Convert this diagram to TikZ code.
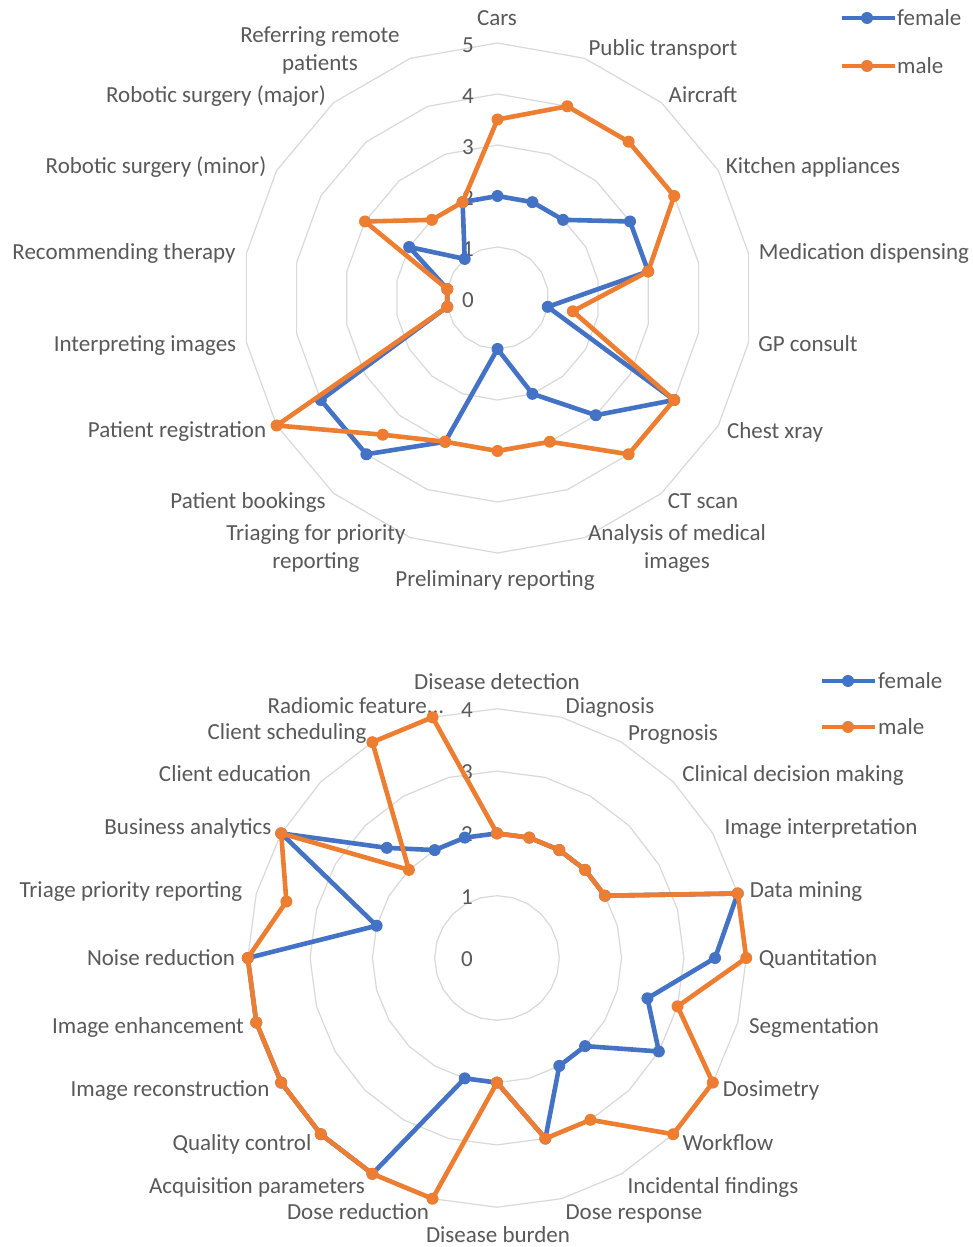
\documentclass[tikz,border=0pt]{standalone}
\usepackage{fontspec}
\setmainfont{Carlito}
\definecolor{serF}{HTML}{4472C4}
\definecolor{serM}{HTML}{ED7D31}
\definecolor{gridc}{HTML}{D9D9D9}
\definecolor{txtc}{HTML}{595959}
\tikzset{
  gridline/.style={draw=gridc, line width=1.2pt},
  lab/.style={font=\fontsize{23}{28}\selectfont, text=txtc, anchor=base, inner sep=0pt},
  labw/.style={lab, anchor=base west},
  multilab/.style={lab, align=center},
  fline/.style={draw=serF, line width=4.6pt, line join=round, line cap=round},
  mline/.style={draw=serM, line width=4.6pt, line join=round, line cap=round},
}
\begin{document}
\begin{tikzpicture}[x=1pt,y=1pt]
\useasboundingbox (0,0) rectangle (973,1247);
\fill[white] (0,0) rectangle (973,1247);
% ================= TOP CHART =================
\begin{scope}[shift={(497.5,949)}]
  \foreach \k in {1,...,5}{
    \draw[gridline] (90:{\k*51pt}) \foreach \i in {1,...,17}{ -- ({90-20*\i}:{\k*51pt}) } -- cycle;
  }
  \foreach \v in {0,...,5}{ \node[lab] (ts\v) at (-29.5, {\v*51-9.5}) {\v}; }
  \foreach \v [count=\i from 0] in {2,2,2,3,3,1,4,3,2,1,3,4,4,1,1,2,1,2}{
    \coordinate (tf\i) at ({90-20*\i}:{\v*51pt});
  }
  \foreach \v [count=\i from 0] in {3.5,4,4,4,3,1.5,4,4,3,3,3,3.5,5,1,1,3,2,2}{
    \coordinate (tm\i) at ({90-20*\i}:{\v*51pt});
  }
\end{scope}
% top labels
\node[lab] (t0) at (497,1221.5) {Cars};
\node[lab] (t1) at (663,1191.5) {Public transport};
\node[lab] (t2) at (703,1144.5) {Aircraft};
\node[lab] (t3) at (813,1073.5) {Kitchen appliances};
\node[lab] (t4) at (864,987.5) {Medication dispensing};
\node[lab] (t5) at (808,895.5) {GP consult};
\node[lab] (t6) at (775,808.5) {Chest xray};
\node[lab] (t7) at (703,738.5) {CT scan};
\node[multilab] (t8) at (677,678.5) {Analysis of medical\\images};
\node[lab] (t9) at (495,660.5) {Preliminary reporting};
\node[multilab] (t10) at (316,678.5) {Triaging for priority\\reporting};
\node[lab] (t11) at (248,738.5) {Patient bookings};
\node[lab] (t12) at (177,809.5) {Patient registration};
\node[lab] (t13) at (145,895.5) {Interpreting images};
\node[lab] (t14) at (124,987.5) {Recommending therapy};
\node[lab] (t15) at (156,1073.5) {Robotic surgery (minor)};
\node[lab] (t16) at (216,1144.5) {Robotic surgery (major)};
\node[multilab] (t17) at (320,1176.5) {Referring remote\\patients};
% top series
\draw[fline] (tf0) \foreach \i in {1,...,17}{ -- (tf\i) } -- cycle;
\foreach \i in {0,...,17}{ \fill[serF] (tf\i) circle (6pt); }
\draw[mline] (tm0) \foreach \i in {1,...,17}{ -- (tm\i) } -- cycle;
\foreach \i in {0,...,17}{ \fill[serM] (tm\i) circle (6pt); }
% top legend
\coordinate (tlfa) at (842,1229); \coordinate (tlfb) at (895,1229);
\draw[fline, line cap=butt] (tlfa) -- (tlfb);
\fill[serF] (867,1229) circle (6pt);
\node[labw] (tlf) at (897,1221.5) {female};
\coordinate (tlma) at (842,1181); \coordinate (tlmb) at (895,1181);
\draw[mline, line cap=butt] (tlma) -- (tlmb);
\fill[serM] (867,1181) circle (6pt);
\node[labw] (tlm) at (897,1173.5) {male};
% ================= BOTTOM CHART =================
\begin{scope}[shift={(497,289)}]
  \foreach \k in {1,...,4}{
    \draw[gridline] (90:{\k*62.3pt}) \foreach \i in {1,...,23}{ -- ({90-15*\i}:{\k*62.3pt}) } -- cycle;
  }
  \foreach \v in {0,...,4}{ \node[lab] (bs\v) at (-30, {\v*62.3-8.5}) {\v}; }
  \foreach \v [count=\i from 0] in {2,2,2,2,2,4,3.5,2.5,3,2,2,3,2,2,4,4,4,4,4,2,4,2.5,2,2}{
    \coordinate (bf\i) at ({90-15*\i}:{\v*62.3pt});
  }
  \foreach \v [count=\i from 0] in {2,2,2,2,2,4,4,3,4,4,3,3,2,4,4,4,4,4,4,3.5,4,2,4,4}{
    \coordinate (bm\i) at ({90-15*\i}:{\v*62.3pt});
  }
\end{scope}
% bottom labels
\node[lab] (b0) at (497,557.5) {Disease detection};
\node[lab] (b1) at (610,533.5) {Diagnosis};
\node[lab] (b2) at (673,506.5) {Prognosis};
\node[lab] (b3) at (793,465.5) {Clinical decision making};
\node[lab] (b4) at (821,412.5) {Image interpretation};
\node[lab] (b5) at (806,349.5) {Data mining};
\node[lab] (b6) at (818,281.5) {Quantitation};
\node[lab] (b7) at (814,213.5) {Segmentation};
\node[lab] (b8) at (771,150.5) {Dosimetry};
\node[lab] (b9) at (728,96.5) {Workflow};
\node[lab] (b10) at (713,53.5) {Incidental findings};
\node[lab] (b11) at (634,27.5) {Dose response};
\node[lab] (b12) at (498,4.5) {Disease burden};
\node[lab] (b13) at (358,27.5) {Dose reduction};
\node[lab] (b14) at (257,53.5) {Acquisition parameters};
\node[lab] (b15) at (242,96.5) {Quality control};
\node[lab] (b16) at (170,150.5) {Image reconstruction};
\node[lab] (b17) at (148,213.5) {Image enhancement};
\node[lab] (b18) at (161,281.5) {Noise reduction};
\node[lab] (b19) at (131,349.5) {Triage priority reporting};
\node[lab] (b20) at (188,412.5) {Business analytics};
\node[lab] (b21) at (235,465.5) {Client education};
\node[lab] (b22) at (287,507.5) {Client scheduling};
\node[lab] (b23) at (356,533.5) {Radiomic feature...};
% bottom series
\draw[fline] (bf0) \foreach \i in {1,...,23}{ -- (bf\i) } -- cycle;
\foreach \i in {0,...,23}{ \fill[serF] (bf\i) circle (6pt); }
\draw[mline] (bm0) \foreach \i in {1,...,23}{ -- (bm\i) } -- cycle;
\foreach \i in {0,...,23}{ \fill[serM] (bm\i) circle (6pt); }
% bottom legend
\coordinate (blfa) at (822,566); \coordinate (blfb) at (875,566);
\draw[fline, line cap=butt] (blfa) -- (blfb);
\fill[serF] (848,566) circle (6pt);
\node[labw] (blf) at (878,558.5) {female};
\coordinate (blma) at (822,520); \coordinate (blmb) at (875,520);
\draw[mline, line cap=butt] (blma) -- (blmb);
\fill[serM] (848,520) circle (6pt);
\node[labw] (blm) at (878,512.5) {male};
\end{tikzpicture}
\end{document}
